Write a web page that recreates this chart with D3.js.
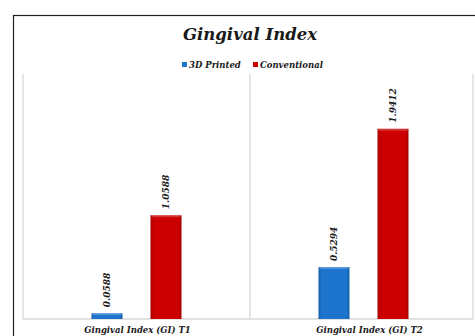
<!DOCTYPE html>
<html>
<head>
<meta charset="utf-8">
<script src="https://cdn.jsdelivr.net/npm/d3@7"></script>
<style>
  body { margin: 0; background: #fff; }
  svg { display: block; }
  text { font-family: "DejaVu Serif", serif; font-weight: bold; font-style: italic; fill: #1a1a1a; }
</style>
</head>
<body>
<svg id="chart" width="475" height="336"></svg>
<script>
// data
const categories = ["Gingival Index (GI) T1", "Gingival Index (GI) T2"];
const seriesNames = ["3D Printed", "Conventional"];
const printed = [0.0588, 0.5294];
const conventional = [1.0588, 1.9412];
const seriesColors = ["#1c74cc", "#cc0000"];

const W = 475, H = 336;
const plot = { left: 23, right: 473, top: 74, bottom: 319 };

const svg = d3.select("#chart");

// gradients for the bevelled bars
const defs = svg.append("defs");
seriesColors.forEach((c, i) => {
    const g = defs.append("linearGradient").attr("id", "grad" + i).attr("x1", 0).attr("x2", 1).attr("y1", 0).attr("y2", 0);
    const dark = d3.color(c).darker(0.6);
    g.append("stop").attr("offset", "0%").attr("stop-color", dark);
    g.append("stop").attr("offset", "10%").attr("stop-color", c);
    g.append("stop").attr("offset", "90%").attr("stop-color", c);
    g.append("stop").attr("offset", "100%").attr("stop-color", dark);
});

// outer border
svg.append("rect").attr("x", 13.5).attr("y", 15.5).attr("width", 470).attr("height", 340)
    .attr("fill", "none").attr("stroke", "#222").attr("stroke-width", 1.2);

// title
svg.append("text").attr("x", 250).attr("y", 40).attr("text-anchor", "middle")
    .style("font-size", "16.5px").text("Gingival Index");

// legend
const legendItems = [{ x: 182 }, { x: 253 }];
seriesNames.forEach((name, i) => {
    const g = svg.append("g").attr("transform", `translate(${legendItems[i].x},61)`);
    g.append("rect").attr("width", 5).attr("height", 5).attr("y", 1).attr("fill", seriesColors[i]);
    g.append("text").attr("x", 7).attr("y", 7).style("font-size", "8.5px").text(name);
});

// scales
const x = d3.scaleBand().domain(categories).range([plot.left, 477]);
const y = d3.scaleLinear().domain([0, 2.5]).range([plot.bottom, plot.top]);

// plot frame
const frame = svg.append("g").attr("stroke", "#d9d9d9").attr("stroke-width", 1.3);
frame.append("line").attr("x1", plot.left).attr("x2", plot.left).attr("y1", plot.top).attr("y2", plot.bottom);
frame.append("line").attr("x1", plot.right).attr("x2", plot.right).attr("y1", plot.top).attr("y2", plot.bottom);
frame.append("line").attr("x1", x(categories[1])).attr("x2", x(categories[1])).attr("y1", plot.top).attr("y2", plot.bottom);
frame.append("line").attr("x1", plot.left).attr("x2", plot.right).attr("y1", plot.bottom).attr("y2", plot.bottom);

// bars
const barW = 31, barGap = 28;
const rows = [];
categories.forEach((c, ci) => {
    [printed, conventional].forEach((vals, si) => {
        rows.push({ cat: c, s: si, v: vals[ci] });
    });
});
const xPos = d => x(d.cat) + x.bandwidth() / 2 + (d.s === 0 ? -(barGap / 2 + barW) : barGap / 2);

svg.append("g").selectAll("rect").data(rows).join("rect")
    .attr("x", xPos)
    .attr("y", d => y(d.v))
    .attr("width", barW)
    .attr("height", d => y(0) - y(d.v))
    .attr("fill", d => `url(#grad${d.s})`);

// light bevel on top
svg.append("g").selectAll("rect").data(rows).join("rect")
    .attr("x", d => xPos(d) + 1)
    .attr("y", d => y(d.v))
    .attr("width", barW - 2)
    .attr("height", 2)
    .attr("fill", "#fff").attr("opacity", 0.2);

// value labels
svg.append("g").selectAll("text").data(rows).join("text")
    .attr("transform", d => `translate(${xPos(d) + barW / 2 + 3},${y(d.v) - 6}) rotate(-90)`)
    .style("font-size", "9px")
    .text(d => d.v.toFixed(4));

// category labels
svg.append("g").selectAll("text").data(categories).join("text")
    .attr("x", (d, i) => x(d) + x.bandwidth() / 2 + (i === 0 ? 1 : 6))
    .attr("y", 333)
    .attr("text-anchor", "middle")
    .style("font-size", "8.5px")
    .text(d => d);
</script>
</body>
</html>
